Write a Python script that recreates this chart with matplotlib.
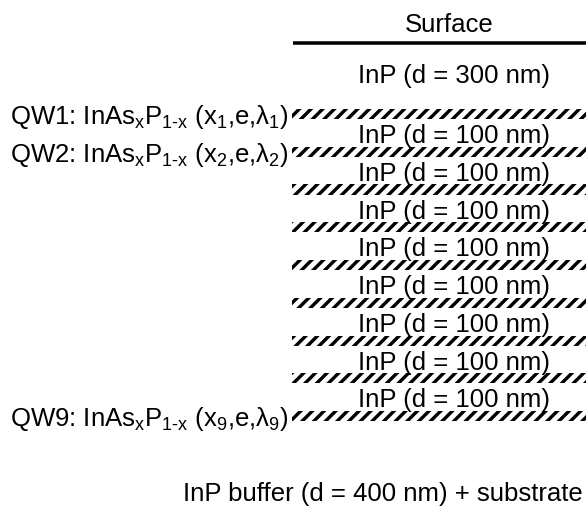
import matplotlib
matplotlib.use("Agg")
from matplotlib import pyplot as plt
from matplotlib.patches import Rectangle

# layer stack (top to bottom)
qw_number = [1, 2, 3, 4, 5, 6, 7, 8, 9]
qw_labelled = [1, 2, 9]
cap_thickness = 300      # nm
spacer_thickness = 100   # nm
buffer_thickness = 400   # nm

DPI = 70
plt.rcParams['font.family'] = ['Liberation Sans', 'DejaVu Sans']
plt.rcParams['mathtext.fontset'] = 'custom'
plt.rcParams['mathtext.rm'] = 'Liberation Sans'
plt.rcParams['mathtext.it'] = 'Liberation Sans'
plt.rcParams['mathtext.default'] = 'rm'
plt.rcParams['hatch.linewidth'] = 3.4 * 72 / DPI

fs = 25.7 * 72 / DPI   # font size in points (~25.7 px)

fig = plt.figure(figsize=(586 / DPI, 506 / DPI), dpi=DPI)
ax = fig.add_axes([0, 0, 1, 1])
ax.set_xlim(0, 586)
ax.set_ylim(11.38, -2.02)
ax.axis('off')

band_x0 = 292
band_h = 0.27

# surface
ax.text(449, -1.17, 'Surface', ha='center', va='baseline', fontsize=fs)
ax.plot([293, 586], [-0.88, -0.88], color='black', lw=3.5 * 72 / DPI,
        solid_capstyle='butt')
ax.text(454, 0.18, f'InP (d = {cap_thickness} nm)', ha='center',
        va='baseline', fontsize=fs, zorder=5)

# quantum wells and spacers
for n in qw_number:
    ax.add_patch(Rectangle((band_x0, n - band_h / 2), 400, band_h,
                           facecolor='none', edgecolor='black', lw=0,
                           hatch='//', zorder=2))
    if n in qw_labelled:
        lab = (f'QW{n}: InAs$_{{x}}$P$_{{1\u2010x}}$ '
               f'(x$_{{{n}}}$,e,\u03bb$_{{{n}}}$)')
        ax.text(289, n + 0.26, lab, ha='right', va='baseline', fontsize=fs)
    if n < qw_number[-1]:
        ax.text(454, n + 0.77, f'InP (d = {spacer_thickness} nm)',
                ha='center', va='baseline', fontsize=fs, zorder=5)

ax.text(583, 11.24, f'InP buffer (d = {buffer_thickness} nm) + substrate',
        ha='right', va='baseline', fontsize=fs)

fig.savefig('out.png', dpi=DPI, facecolor='white')
